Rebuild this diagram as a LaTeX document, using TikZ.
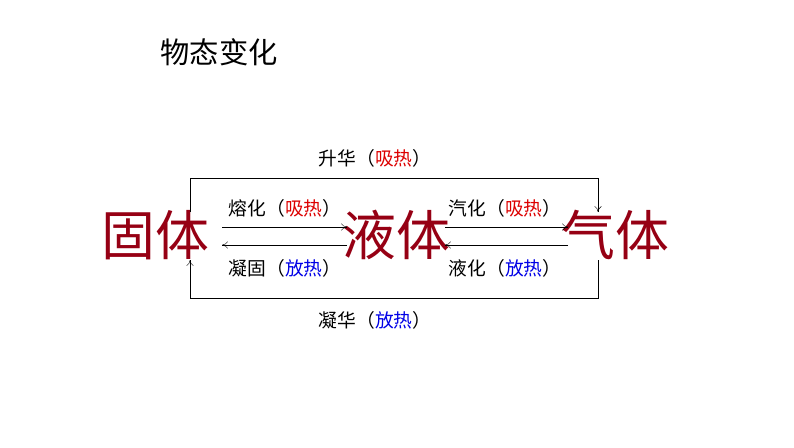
\documentclass[tikz,border=0pt]{standalone}
\usepackage{fontspec}
\newfontfamily\cjk{Noto Sans CJK SC}
\usetikzlibrary{arrows.meta}
\definecolor{darkred}{RGB}{150,0,20}
\definecolor{hotred}{RGB}{220,0,0}
\definecolor{coldblue}{RGB}{0,0,230}
\tikzset{
  state/.style={font=\cjk\fontsize{46}{50}\selectfont, text=darkred},
  lbl/.style={font=\cjk\fontsize{16}{18}\selectfont},
  link/.style={thin, -{To[length=5pt,width=6pt]}}
}
\newcommand{\hot}{（\textcolor{hotred}{吸热}）}
\newcommand{\cold}{（\textcolor{coldblue}{放热}）}
\begin{document}
\begin{tikzpicture}[x=0.03cm,y=-0.03cm]
  \useasboundingbox (0,0) rectangle (794,447);
  \node[font=\cjk\fontsize{25}{28}\selectfont] (title) at (219,52) {物态变化};
  % states
  \node[state] (solid) at (155,235) {固体};
  \node[state] (liquid) at (396,235) {液体};
  \node[state] (gas) at (615,235) {气体};
  % corners
  \coordinate (s1) at (190,212);
  \coordinate (s2) at (190,178);
  \coordinate (g2) at (598,178);
  \coordinate (g1) at (598,212);
  \coordinate (g3) at (598,260);
  \coordinate (g4) at (598,298);
  \coordinate (s4) at (190,298);
  \coordinate (s3) at (190,260);
  \draw[link] (s1) -- (s2) -- (g2) -- (g1);
  \draw[link] (g3) -- (g4) -- (s4) -- (s3);
  % middle arrows
  \draw[link] (222,227) -- (347,227);
  \draw[link] (347,245) -- (222,245);
  \draw[link] (445,227) -- (568,227);
  \draw[link] (568,245) -- (445,245);
  % labels
  \node[lbl] (sub) at (375,158) {升华\hot};
  \node[lbl] (melt) at (285,208) {熔化\hot};
  \node[lbl] (freeze) at (285,268) {凝固\cold};
  \node[lbl] (boil) at (505,208) {汽化\hot};
  \node[lbl] (cond) at (505,268) {液化\cold};
  \node[lbl] (dep) at (375,320) {凝华\cold};
\end{tikzpicture}
\end{document}
